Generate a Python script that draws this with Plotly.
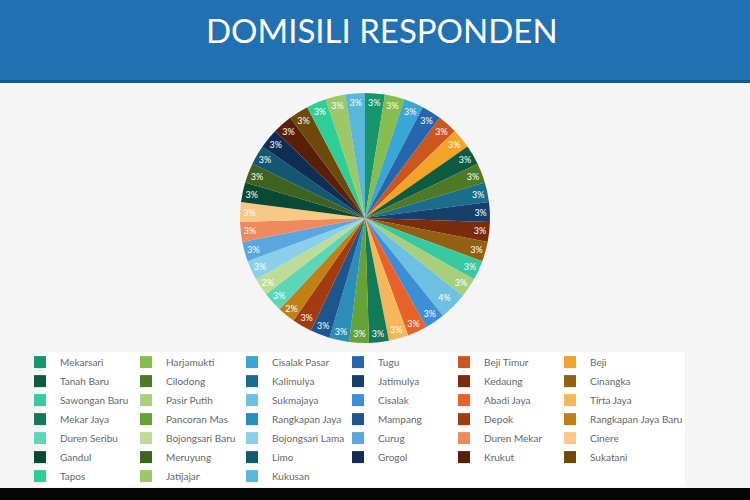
import plotly.graph_objects as go

title_text = "DOMISILI RESPONDEN"

kelurahan = [
    "Mekarsari", "Harjamukti", "Cisalak Pasar", "Tugu", "Beji Timur", "Beji",
    "Tanah Baru", "Cilodong", "Kalimulya", "Jatimulya", "Kedaung", "Cinangka",
    "Sawongan Baru", "Pasir Putih", "Sukmajaya", "Cisalak", "Abadi Jaya", "Tirta Jaya",
    "Mekar Jaya", "Pancoran Mas", "Rangkapan Jaya", "Mampang", "Depok", "Rangkapan Jaya Baru",
    "Duren Seribu", "Bojongsari Baru", "Bojongsari Lama", "Curug", "Duren Mekar", "Cinere",
    "Gandul", "Meruyung", "Limo", "Grogol", "Krukut", "Sukatani",
    "Tapos", "Jatijajar", "Kukusan",
]

responden = [
    10, 10, 10, 10, 10, 10,
    10, 10, 10, 10, 10, 10,
    10, 10, 14, 10, 10, 10,
    10, 10, 10, 10, 10, 9,
    10, 9, 10, 10, 10, 10,
    10, 10, 10, 10, 10, 10,
    10, 10, 10,
]

slice_colors = [
    "#17956c", "#86bd4c", "#3aa6d6", "#2566ae", "#cc561c", "#f2a32a",
    "#0d5c42", "#4e7a27", "#1c6c8c", "#163f6c", "#7a2c0c", "#935f10",
    "#38c9a0", "#a8d07c", "#6cc0e2", "#3b8fd8", "#e8602a", "#f6b75a",
    "#127a57", "#67a236", "#2a8eb6", "#1c558f", "#a23a12", "#c27f16",
    "#5bd6b6", "#bcdc98", "#8ccfea", "#5aa7df", "#ee8a5e", "#f8c984",
    "#0a4934", "#3e6320", "#145770", "#0f2e53", "#581f0a", "#6f490c",
    "#2ecf97", "#9cc867", "#59b8da",
]

W = 670.0  # plot-area width in px (right margin 80)

fig = go.Figure()

fig.add_trace(go.Pie(
    labels=kelurahan,
    values=responden,
    sort=False,
    direction="clockwise",
    rotation=0,
    marker=dict(colors=slice_colors, line=dict(width=0)),
    texttemplate="%{percent:.0%}",
    textposition="inside",
    insidetextorientation="horizontal",
    textfont=dict(family="Lato", size=9, color="#ffffff"),
    hoverinfo="label+percent",
    domain=dict(x=[240/W, 490/W], y=[1-343/500, 1-93/500]),
    showlegend=True,
))

fig.update_layout(
    width=750, height=500,
    margin=dict(l=0, r=80, t=0, b=0, autoexpand=False),
    paper_bgcolor="#f5f5f6",
    plot_bgcolor="#f5f5f6",
    shapes=[
        dict(type="rect", xref="paper", yref="paper", x0=0, x1=750/W, y0=1-81/500, y1=1,
             fillcolor="#2170b2", line=dict(width=0), layer="below"),
        dict(type="rect", xref="paper", yref="paper", x0=0, x1=750/W, y0=1-83/500, y1=1-80/500,
             fillcolor="#195a8e", line=dict(width=0), layer="below"),
        dict(type="rect", xref="paper", yref="paper", x0=42/W, x1=685/W, y0=13/500, y1=1-352/500,
             fillcolor="#ffffff", line=dict(width=0), layer="below"),
        dict(type="rect", xref="paper", yref="paper", x0=0, x1=750/W, y0=0, y1=12/500,
             fillcolor="#050505", line=dict(width=0), layer="above"),
    ],
    annotations=[
        dict(text=title_text, xref="paper", yref="paper", x=382/W, y=1-30/500,
             xanchor="center", yanchor="middle", showarrow=False,
             font=dict(family="Lato", size=33, color="#ffffff")),
    ],
    legend=dict(
        orientation="h",
        x=20/W, xanchor="left",
        y=1-345/500, yanchor="top",
        entrywidth=61, entrywidthmode="pixels",
        bgcolor="rgba(0,0,0,0)",
        font=dict(family="Lato", size=10, color="#666666"),
        title=dict(text="M" * 355, side="top",
                   font=dict(family="Lato", size=2, color="rgba(0,0,0,0)")),
        itemclick=False,
    ),
)

fig.write_html("out.html")
